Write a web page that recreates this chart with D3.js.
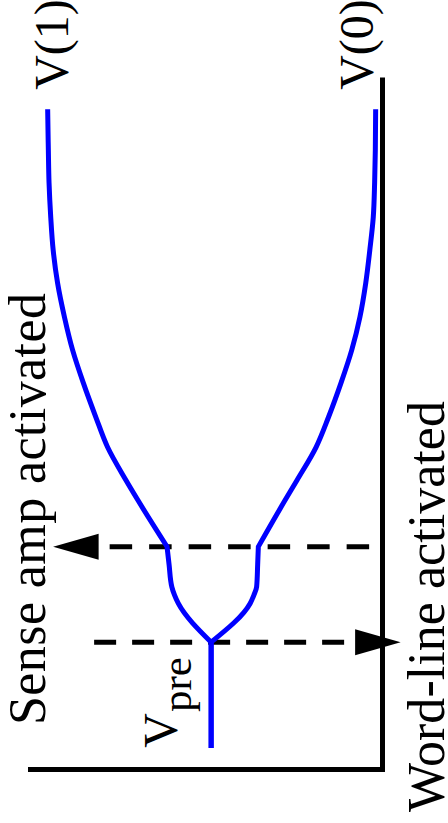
<!DOCTYPE html>
<html>
<head>
<meta charset="utf-8">
<script src="https://cdn.jsdelivr.net/npm/d3@7"></script>
<style>
  html, body { margin: 0; padding: 0; background: #ffffff; }
  svg { display: block; }
</style>
</head>
<body>
<script>
// Bit-line voltages during a DRAM read.
// Time in arbitrary units, voltage normalised to the supply (Vpre = 0.5).
const time     = [0.31, 1.84, 2.40, 2.52, 2.64, 2.96, 3.22, 3.89, 4.18, 4.66, 5.09, 5.59, 6.06, 6.54, 7.03, 7.51, 7.98, 8.48, 8.95, 9.54];
const voltHigh = [0.501, 0.501, 0.597, 0.608, 0.616, 0.624, 0.630, 0.715, 0.750, 0.804, 0.838, 0.875, 0.906, 0.930, 0.950, 0.963, 0.970, 0.975, 0.977, 0.979];
const voltLow  = [0.501, 0.501, 0.387, 0.376, 0.368, 0.365, 0.363, 0.285, 0.250, 0.194, 0.158, 0.121, 0.090, 0.066, 0.049, 0.037, 0.027, 0.023, 0.021, 0.020];
const seriesLabels = ["V(1)", "V(0)"];

// Events: word-line activation, then sense-amplifier activation
const eventTimes  = [1.84, 3.22];
const eventLabels = ["Word-line activated", "Sense amp activated"];
const eventTail   = [0.864, 0.016];   // voltage where the dashed line starts
const eventTip    = [-0.053, 0.963];  // voltage at the arrow tip

const vPre = 0.501;
const preLabel = ["V", "pre"];

const timeMax = 10;
const voltMax = 1.0365;

// ---- layout ----
const width = 448, height = 823;
const W = 692;     // length of the time axis
const H = 354.5;   // length of the voltage axis
const origin = [382.5, 769.5];
const blue = "#0000ff";
const font = '"Liberation Serif"';

const svg = d3.select("body").append("svg")
  .attr("width", width).attr("height", height)
  .attr("viewBox", `0 0 ${width} ${height}`);

// The chart is drawn in its natural orientation and turned a quarter turn
const g = svg.append("g")
  .attr("transform", `translate(${origin[0] - H},${origin[1]}) rotate(-90)`);

const x = d3.scaleLinear().domain([0, timeMax]).range([0, W]);
const y = d3.scaleLinear().domain([0, voltMax]).range([H, 0]);

// Axes frame (L shape)
g.append("path")
  .attr("d", d3.line()([[x(0), y(voltMax)], [x(0), y(0)], [x(timeMax), y(0)]]))
  .attr("fill", "none")
  .attr("stroke", "#000")
  .attr("stroke-width", 5)
  .attr("stroke-linejoin", "miter")
  .attr("stroke-linecap", "butt");

// Event markers: dashed lines with arrowheads
const arrowLen = 45.5, arrowHalf = 13, dashUnder = 11;
const dashes = ["22,16", "22.5,17"];
eventTimes.forEach((t, i) => {
  const xt = x(t);
  const yTip = y(eventTip[i]);
  const yTail = y(eventTail[i]);
  const dir = Math.sign(yTip - yTail);         // +1 toward larger local y
  const yBase = yTip - dir * arrowLen;
  const yDashStart = yBase - dir * dashUnder;
  g.append("path")
    .attr("d", d3.line()([[xt, yDashStart], [xt, yTail]]))
    .attr("fill", "none")
    .attr("stroke", "#000")
    .attr("stroke-width", 5)
    .attr("stroke-dasharray", dashes[i]);
  g.append("path")
    .attr("d", d3.line()([[xt, yTip], [xt - arrowHalf, yBase], [xt + arrowHalf, yBase]]) + "Z")
    .attr("fill", "#000");
});

// Bit-line curves: flat precharge, charge sharing, then sensing
function seriesPath(volts) {
  const pts = time.map((t, i) => [x(t), y(volts[i])]);
  const iW = time.indexOf(eventTimes[0]);
  const iS = time.indexOf(eventTimes[1]);
  const straight = d3.line();
  const smooth = d3.line().curve(d3.curveMonotoneX);
  return straight(pts.slice(0, iW + 1)) +
         smooth(pts.slice(iW, iS + 1)).replace(/^M/, "L") +
         smooth(pts.slice(iS)).replace(/^M/, "L");
}
[voltHigh, voltLow].forEach(v => {
  g.append("path")
    .attr("d", seriesPath(v))
    .attr("fill", "none")
    .attr("stroke", blue)
    .attr("stroke-width", 5)
    .attr("stroke-linejoin", "miter")
    .attr("stroke-linecap", "butt");
});

// Series labels at the curve ends
const seriesEnd = [voltHigh[voltHigh.length - 1], voltLow[voltLow.length - 1]];
const seriesDy = [20.3, -2.3];
seriesLabels.forEach((s, i) => {
  g.append("text")
    .attr("x", x(time[time.length - 1]) + 19.5)
    .attr("y", y(seriesEnd[i]) + seriesDy[i])
    .style("font-family", font)
    .style("font-size", "48px")
    .attr("fill", "#000")
    .text(s);
});

// Precharge label V_pre
const pre = g.append("text")
  .attr("x", x(time[0]) + 0.3)
  .attr("y", y(vPre) - 34.2)
  .style("font-family", font)
  .style("font-size", "48px")
  .attr("fill", "#000");
pre.append("tspan").text(preLabel[0]);
pre.append("tspan")
  .attr("x", x(time[0]) + 36)
  .attr("y", y(vPre) - 19.7)
  .style("font-size", "43px")
  .text(preLabel[1]);

// Event labels
const eventLabelPos = [[-42.5, 416, 411], [44.5, 17, 432]];
eventLabels.forEach((s, i) => {
  g.append("text")
    .attr("x", eventLabelPos[i][0])
    .attr("y", eventLabelPos[i][1])
    .attr("textLength", eventLabelPos[i][2])
    .style("font-family", font)
    .style("font-size", "52px")
    .attr("fill", "#000")
    .text(s);
});
</script>
</body>
</html>
